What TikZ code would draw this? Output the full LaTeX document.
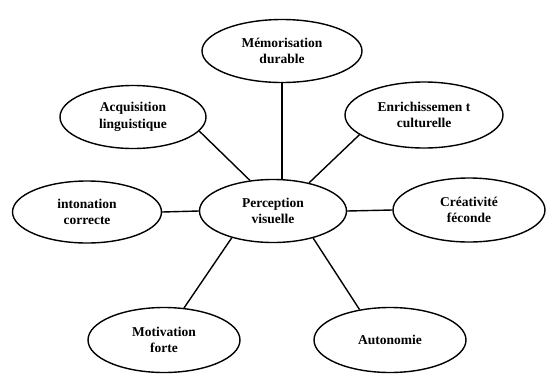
\documentclass[tikz,border=0pt]{standalone}
\usepackage{fontspec}
\setmainfont{Liberation Serif}
\usetikzlibrary{shapes.geometric}
\begin{document}
\begin{tikzpicture}[x=1pt,y=-1pt,
  bub/.style={ellipse,draw,line width=1.4pt,inner sep=0pt,align=center,
    font=\fontsize{13.5}{16.5}\selectfont\bfseries},
  link/.style={line width=1.4pt}]
\useasboundingbox (0,0) rectangle (555,384);
\node[bub,minimum width=160pt,minimum height=63pt] (mem) at (282,51) {Mémorisation\\durable};
\node[bub,minimum width=146pt,minimum height=63pt] (acq) at (133,117) {Acquisition\\linguistique};
\node[bub,minimum width=158pt,minimum height=66pt] (enr) at (424,115) {Enrichissemen t\\culturelle};
\node[bub,minimum width=149pt,minimum height=62pt] (ito) at (87,212) {intonation\\correcte};
\node[bub,minimum width=147pt,minimum height=63pt] (perc) at (273,211) {Perception\\visuelle};
\node[bub,minimum width=152pt,minimum height=64pt] (crea) at (469,210) {Créativité\\féconde};
\node[bub,minimum width=152pt,minimum height=65pt] (mot) at (164,340) {Motivation\\forte};
\node[bub,minimum width=152pt,minimum height=65pt] (aut) at (390,340) {Autonomie};
\draw[link] (mem.south) -- (mem.south |- perc.north);
\draw[link] (acq.-12.6) -- (perc.127.7);
\draw[link] (enr.197.6) -- (perc.38);
\draw[link] (ito.east) -- (perc.west);
\draw[link] (perc.east) -- (crea.west);
\draw[link] (mot.58.5) -- (perc.213.4);
\draw[link] (aut.135) -- (perc.326);
\end{tikzpicture}
\end{document}
